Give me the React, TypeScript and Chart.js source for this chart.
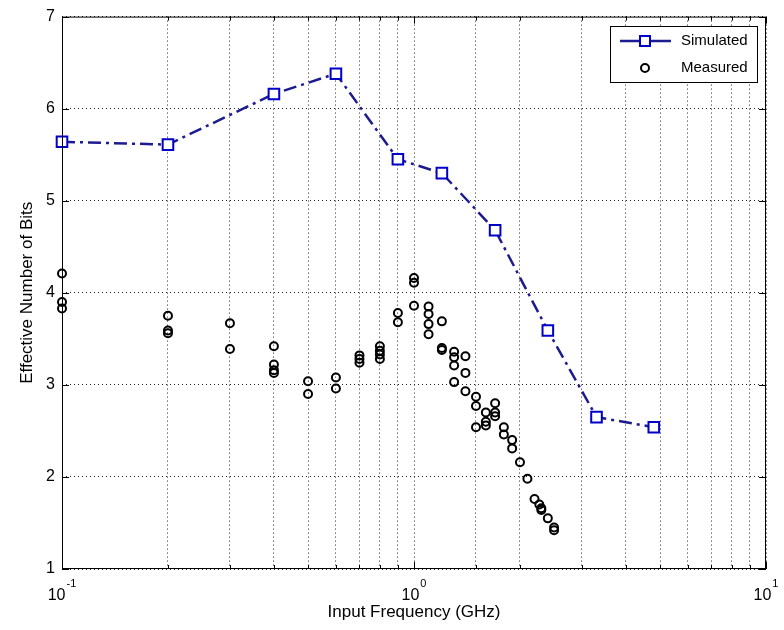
import React, { useEffect, useRef } from 'react';
import { Chart, registerables } from 'chart.js';

Chart.register(...registerables);

// Simulated ENOB (GHz, bits)
const simFreq = [0.1, 0.2, 0.4, 0.6, 0.9, 1.2, 1.7, 2.4, 3.3, 4.8];
const simEnob = [5.64, 5.61, 6.16, 6.38, 5.45, 5.3, 4.68, 3.59, 2.65, 2.54];

// Measured ENOB (GHz, bits)
const measFreq = [
  0.1, 0.1, 0.1,
  0.2, 0.2, 0.2,
  0.3, 0.3,
  0.4, 0.4, 0.4, 0.4,
  0.5, 0.5,
  0.6, 0.6,
  0.7, 0.7, 0.7,
  0.8, 0.8, 0.8, 0.8,
  0.9, 0.9,
  1.0, 1.0, 1.0,
  1.1, 1.1, 1.1, 1.1,
  1.2, 1.2, 1.2,
  1.3, 1.3, 1.3, 1.3,
  1.4, 1.4, 1.4,
  1.5, 1.5, 1.5,
  1.6, 1.6, 1.6,
  1.7, 1.7, 1.7,
  1.8, 1.8,
  1.9, 1.9,
  2.0,
  2.1,
  2.2,
  2.27, 2.3, 2.3,
  2.4,
  2.5, 2.5,
];
const measEnob = [
  4.21, 3.9, 3.83,
  3.75, 3.59, 3.56,
  3.67, 3.39,
  3.42, 3.22, 3.16, 3.13,
  3.04, 2.9,
  3.08, 2.96,
  3.32, 3.28, 3.24,
  3.42, 3.37, 3.33, 3.28,
  3.78, 3.68,
  4.16, 4.11, 3.86,
  3.85, 3.77, 3.66, 3.55,
  3.69, 3.4, 3.38,
  3.36, 3.3, 3.21, 3.03,
  3.31, 3.13, 2.93,
  2.87, 2.77, 2.54,
  2.7, 2.6, 2.56,
  2.8, 2.7, 2.66,
  2.54, 2.46,
  2.4, 2.31,
  2.16,
  1.98,
  1.76,
  1.7, 1.64, 1.66,
  1.55,
  1.45, 1.42,
];

const xLabelValues = [0.1, 1, 10];
const xLabelExps = ['-1', '0', '1'];
const seriesNames = ['Simulated', 'Measured'];

const FONT = '"Liberation Sans", Arial, Helvetica, sans-serif';
const SIM_LINE = '#1c1c90';
const SIM_MARK = '#0000c8';

const matlabPlugin = {
  id: 'matlabFrame',
  afterDraw(chart: any) {
    const { ctx, chartArea } = chart;
    const { left, right, top, bottom } = chartArea;
    const xs = chart.scales.x;
    const ys = chart.scales.y;
    ctx.save();
    // frame
    ctx.strokeStyle = '#000';
    ctx.lineWidth = 1;
    ctx.setLineDash([]);
    ctx.strokeRect(left + 0.5, top + 0.5, right - left - 1, bottom - top - 1);
    // inward ticks
    ctx.beginPath();
    xs.ticks.forEach((t: any) => {
      const v = t.value;
      const p = Math.round(xs.getPixelForValue(v)) + 0.5;
      const lg = Math.log10(v);
      const major = Math.abs(lg - Math.round(lg)) < 1e-6;
      const len = major ? 7 : 4;
      ctx.moveTo(p, bottom);
      ctx.lineTo(p, bottom - len);
      ctx.moveTo(p, top);
      ctx.lineTo(p, top + len);
    });
    ys.ticks.forEach((t: any) => {
      const p = Math.round(ys.getPixelForValue(t.value)) + 0.5;
      ctx.moveTo(left, p);
      ctx.lineTo(left + 7, p);
      ctx.moveTo(right, p);
      ctx.lineTo(right - 7, p);
    });
    ctx.stroke();
    // x tick labels 10^n
    ctx.fillStyle = '#000';
    ctx.textBaseline = 'middle';
    xLabelValues.forEach((v, i) => {
      const p = xs.getPixelForValue(v);
      ctx.font = `16px ${FONT}`;
      const w1 = ctx.measureText('10').width;
      ctx.font = `11px ${FONT}`;
      const w2 = ctx.measureText(xLabelExps[i]).width;
      const x0 = p - (w1 + w2 + 1) / 2;
      ctx.font = `16px ${FONT}`;
      ctx.textAlign = 'left';
      ctx.fillText('10', x0, bottom + 27);
      ctx.font = `11px ${FONT}`;
      ctx.fillText(xLabelExps[i], x0 + w1 + 1, bottom + 15);
    });
    // legend
    const lx = 610, ly = 26, lw = 147, lh = 56;
    ctx.fillStyle = '#fff';
    ctx.fillRect(lx, ly, lw, lh);
    ctx.strokeStyle = '#000';
    ctx.lineWidth = 1;
    ctx.strokeRect(lx + 0.5, ly + 0.5, lw, lh);
    const r1 = ly + 15, r2 = ly + 42;
    ctx.strokeStyle = SIM_LINE;
    ctx.lineWidth = 2.5;
    ctx.beginPath();
    ctx.moveTo(620, r1);
    ctx.lineTo(671, r1);
    ctx.stroke();
    ctx.fillStyle = '#fff';
    ctx.strokeStyle = SIM_MARK;
    ctx.lineWidth = 2;
    ctx.fillRect(640, r1 - 5, 10, 10);
    ctx.strokeRect(640, r1 - 5, 10, 10);
    ctx.strokeStyle = '#000';
    ctx.beginPath();
    ctx.arc(645, r2, 4, 0, Math.PI * 2);
    ctx.stroke();
    ctx.fillStyle = '#000';
    ctx.font = `15px ${FONT}`;
    ctx.textAlign = 'left';
    ctx.textBaseline = 'middle';
    ctx.fillText(seriesNames[0], 681, r1);
    ctx.fillText(seriesNames[1], 681, r2);
    ctx.restore();
  },
};

export default function App() {
  const ref = useRef<HTMLCanvasElement | null>(null);
  useEffect(() => {
    document.body.style.margin = '0';
    if (!ref.current) return;
    const chart = new Chart(ref.current, {
      type: 'scatter',
      data: {
        datasets: [
          {
            label: seriesNames[0],
            data: simFreq.map((x, i) => ({ x, y: simEnob[i] })),
            showLine: true,
            clip: false,
            borderColor: SIM_LINE,
            borderWidth: 2.5,
            borderDash: [13, 5, 3, 5],
            pointStyle: 'rect',
            pointRadius: 7.5,
            pointBorderWidth: 2,
            pointBorderColor: SIM_MARK,
            pointBackgroundColor: '#fff',
            order: 1,
          },
          {
            label: seriesNames[1],
            data: measFreq.map((x, i) => ({ x, y: measEnob[i] })),
            showLine: false,
            clip: false,
            pointStyle: 'circle',
            pointRadius: 4,
            pointBorderWidth: 2,
            pointBorderColor: '#000',
            pointBackgroundColor: 'rgba(0,0,0,0)',
            order: 0,
          },
        ],
      },
      options: {
        animation: false,
        responsive: false,
        maintainAspectRatio: false,
        layout: { padding: { top: 16, right: 18, left: 0, bottom: 0 } },
        plugins: {
          legend: { display: false },
          tooltip: { enabled: false },
        },
        scales: {
          x: {
            type: 'logarithmic',
            min: 0.1,
            max: 10,
            afterFit: (s: any) => { s.height = 61; },
            grid: { color: '#222', lineWidth: 1, drawTicks: false },
            border: { display: false, dash: [1, 3] },
            ticks: { display: false, autoSkip: false },
            title: {
              display: true,
              text: 'Input Frequency (GHz)',
              color: '#000',
              font: { family: FONT, size: 17 },
              padding: { top: 0, bottom: 7 },
            },
          },
          y: {
            type: 'linear',
            min: 1,
            max: 7,
            afterFit: (s: any) => { s.width = 62; },
            grid: { color: '#222', lineWidth: 1, drawTicks: false },
            border: { display: false, dash: [1, 3] },
            ticks: {
              stepSize: 1,
              color: '#000',
              padding: 7,
              font: { family: FONT, size: 16 },
            },
            title: {
              display: true,
              text: 'Effective Number of Bits',
              color: '#000',
              font: { family: FONT, size: 17 },
              padding: { top: 17, bottom: 0 },
            },
          },
        },
      },
      plugins: [matlabPlugin],
    });
    return () => chart.destroy();
  }, []);
  return (
    <div style={{ position: 'absolute', left: 0, top: 0, width: 784, height: 630 }}>
      <canvas ref={ref} width={784} height={630} />
    </div>
  );
}
